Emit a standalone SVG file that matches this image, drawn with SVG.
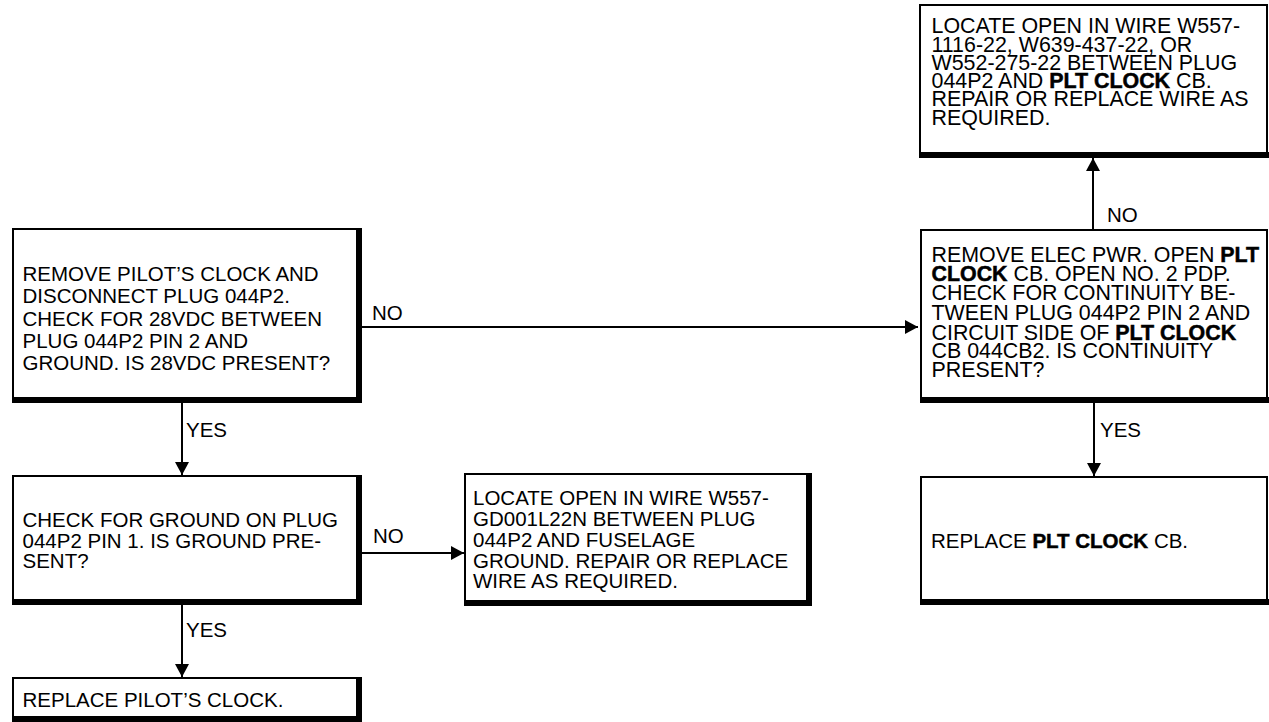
<svg xmlns="http://www.w3.org/2000/svg" width="1269" height="722" viewBox="0 0 1269 722">
<style>
.t{font-family:"Liberation Sans",Arial,Helvetica,sans-serif;font-size:20.5px;fill:#000}
.s{font-size:21.4px}
.b{font-weight:bold;stroke:#000;stroke-width:0.5}
.box{fill:#fff;stroke:#000;stroke-width:2}
.sh{fill:#000}
.ln{stroke:#000;stroke-width:2;fill:none}
</style>
<defs>
<marker id="ah" viewBox="0 0 13 14" refX="13" refY="7" markerWidth="13" markerHeight="14" markerUnits="userSpaceOnUse" orient="auto">
<path d="M0,0 L13,7 L0,14 Z" fill="#000"/>
</marker>
</defs>
<rect width="1269" height="722" fill="#fff"/>

<g id="connectors">
<line class="ln" x1="362" y1="327" x2="918" y2="327" marker-end="url(#ah)"/>
<line class="ln" x1="182" y1="403" x2="182" y2="475" marker-end="url(#ah)"/>
<line class="ln" x1="362" y1="553" x2="464" y2="553" marker-end="url(#ah)"/>
<line class="ln" x1="182" y1="605" x2="182" y2="677" marker-end="url(#ah)"/>
<line class="ln" x1="1093" y1="229" x2="1093" y2="158" marker-end="url(#ah)"/>
<line class="ln" x1="1094" y1="403" x2="1094" y2="476" marker-end="url(#ah)"/>
<text class="t" x="372" y="320">NO</text>
<text class="t" x="186" y="437">YES</text>
<text class="t" x="373" y="543">NO</text>
<text class="t" x="186" y="637">YES</text>
<text class="t" x="1107" y="222">NO</text>
<text class="t" x="1100" y="437">YES</text>
</g>

<g id="box1">
<rect class="box" x="13" y="229" width="346" height="171"/>
<rect class="sh" x="356" y="228" width="6" height="175"/>
<rect class="sh" x="12" y="397" width="350" height="6"/>
<text class="t" x="22.5" y="281">REMOVE PILOT’S CLOCK AND</text>
<text class="t" x="22.5" y="303">DISCONNECT PLUG 044P2.</text>
<text class="t" x="22.5" y="326">CHECK FOR 28VDC BETWEEN</text>
<text class="t" x="22.5" y="348">PLUG 044P2 PIN 2 AND</text>
<text class="t" x="22.5" y="370">GROUND. IS 28VDC PRESENT?</text>
</g>

<g id="box2">
<rect class="box" x="13" y="476" width="346" height="126"/>
<rect class="sh" x="356" y="475" width="6" height="130"/>
<rect class="sh" x="12" y="599" width="350" height="6"/>
<text class="t" x="22.5" y="527">CHECK FOR GROUND ON PLUG</text>
<text class="t" x="22.5" y="548">044P2 PIN 1. IS GROUND PRE-</text>
<text class="t" x="22.5" y="568">SENT?</text>
</g>

<g id="box3">
<rect class="box" x="465" y="474" width="343" height="129"/>
<rect class="sh" x="806" y="473" width="6" height="133"/>
<rect class="sh" x="464" y="600" width="348" height="6"/>
<text class="t" x="473" y="505">LOCATE OPEN IN WIRE W557-</text>
<text class="t" x="473" y="526">GD001L22N BETWEEN PLUG</text>
<text class="t" x="473" y="547">044P2 AND FUSELAGE</text>
<text class="t" x="473" y="568">GROUND. REPAIR OR REPLACE</text>
<text class="t" x="473" y="588">WIRE AS REQUIRED.</text>
</g>

<g id="box4">
<rect class="box" x="13" y="678" width="346" height="40"/>
<rect class="sh" x="356" y="677" width="6" height="45"/>
<rect class="sh" x="12" y="716" width="350" height="6"/>
<text class="t" x="22.5" y="707">REPLACE PILOT’S CLOCK.</text>
</g>

<g id="box5">
<rect class="box" x="920" y="5" width="347" height="149"/>
<rect class="sh" x="919" y="152" width="350" height="6"/>
<text class="t s" x="931.5" y="33">LOCATE OPEN IN WIRE W557-</text>
<text class="t s" x="931.5" y="52">1116-22, W639-437-22, OR</text>
<text class="t s" x="931.5" y="70">W552-275-22 BETWEEN PLUG</text>
<text class="t s" x="931.5" y="88">044P2 AND <tspan class="b">PLT CLOCK</tspan> CB.</text>
<text class="t s" x="931.5" y="106">REPAIR OR REPLACE WIRE AS</text>
<text class="t s" x="931.5" y="125">REQUIRED.</text>
</g>

<g id="box6">
<rect class="box" x="921" y="230" width="346" height="170"/>
<rect class="sh" x="920" y="397" width="349" height="6"/>
<text class="t s" x="931.5" y="262">REMOVE ELEC PWR. OPEN <tspan class="b">PLT</tspan></text>
<text class="t s" x="931.5" y="281"><tspan class="b">CLOCK</tspan> CB. OPEN NO. 2 PDP.</text>
<text class="t s" x="931.5" y="300">CHECK FOR CONTINUITY BE-</text>
<text class="t s" x="931.5" y="320">TWEEN PLUG 044P2 PIN 2 AND</text>
<text class="t s" x="931.5" y="340">CIRCUIT SIDE OF <tspan class="b">PLT CLOCK</tspan></text>
<text class="t s" x="931.5" y="358">CB 044CB2. IS CONTINUITY</text>
<text class="t s" x="931.5" y="377">PRESENT?</text>
</g>

<g id="box7">
<rect class="box" x="921" y="477" width="346" height="125"/>
<rect class="sh" x="920" y="599" width="349" height="6"/>
<text class="t" x="931" y="548">REPLACE <tspan class="b">PLT CLOCK</tspan> CB.</text>
</g>
</svg>
